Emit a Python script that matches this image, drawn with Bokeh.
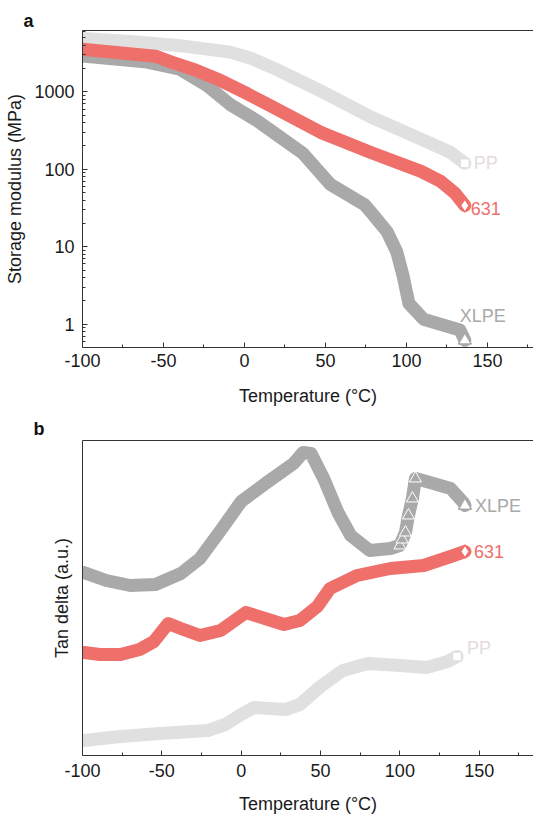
from bokeh.plotting import figure
from bokeh.layouts import column
from bokeh.models import Range1d, FixedTicker, LinearAxis, PrintfTickFormatter
from bokeh.embed import file_html
from bokeh.resources import INLINE
from bokeh.core.properties import value

FONT = "Liberation Sans"
PP_C = "#e0e0e0"
R_C = "#ef6f6a"
X_C = "#a9a9a9"
PP_TXT = "#e2dcdc"

# ---------------- Panel a: storage modulus (MPa) ----------------
a_pp_T = [-100, -70, -40, -9, 4, 19, 47, 78, 109, 127, 136]
a_pp_E = [4900, 4460, 3950, 3260, 2720, 1980, 1030, 473, 245, 166, 120]

a_631_T = [-100, -55, -45, -30, -15, 2, 16, 47, 78, 109, 121, 130, 136]
a_631_E = [3560, 2890, 2420, 1900, 1410, 940, 660, 300, 165, 94, 70, 49, 34]

a_xlpe_T = [-100, -60, -40, -23, -9, 8, 22, 36, 53, 74, 78, 88, 94, 98, 101.5, 110.5, 123, 133, 136]
a_xlpe_E = [2900, 2420, 1960, 1200, 690, 420, 260, 161, 64, 35, 28, 15.7, 8.6, 4.1, 1.85, 1.16, 0.97, 0.84, 0.62]

# ---------------- Panel b: tan delta (a.u.) ----------------
b_pp_T = [-99, -76, -51, -21, -10, 0, 8, 18, 28, 37, 50, 64, 80, 100, 117, 130, 136]
b_pp_V = [0.15, 0.19, 0.22, 0.25, 0.31, 0.41, 0.48, 0.47, 0.46, 0.51, 0.69, 0.85, 0.92, 0.90, 0.88, 0.94, 0.99]

b_631_T = [-99, -89, -76, -64, -55, -46, -38, -26, -13, 3, 15, 27, 37, 48, 56, 73, 94, 115, 132, 141]
b_631_V = [1.03, 1.01, 1.01, 1.06, 1.14, 1.32, 1.27, 1.20, 1.25, 1.43, 1.37, 1.31, 1.35, 1.49, 1.67, 1.80, 1.87, 1.90, 1.99, 2.04]

b_xlpe_T = [-99, -85, -70, -54, -38, -26, -13, 0, 17, 33, 39, 44, 52, 61, 69, 81, 94, 100,
            103.5, 105.4, 107.9, 109.8, 119, 132, 140, 141]
b_xlpe_V = [1.83, 1.75, 1.70, 1.71, 1.82, 1.97, 2.25, 2.54, 2.74, 2.92, 3.03, 3.02, 2.77, 2.43, 2.20, 2.05, 2.07, 2.10,
            2.23, 2.40, 2.57, 2.77, 2.73, 2.67, 2.53, 2.50]
b_xlpe_rise_T = [100, 101.5, 103.5, 105.4, 107.9, 109.8]
b_xlpe_rise_V = [2.10, 2.16, 2.23, 2.40, 2.57, 2.77]

x_major = [-100, -50, 0, 50, 100, 150]
x_minor = [-75, -25, 25, 75, 125, 175]
y_major = [1, 10, 100, 1000]
y_minor = [0.6, 0.7, 0.8, 0.9] + [m * 10 ** k for k in range(0, 4) for m in range(2, 10)]


def style_axes(p, letter, letter_offset, letter_standoff):
    for ax in p.axis:
        ax.axis_line_color = "#333333"
        ax.axis_line_width = 1
        ax.major_tick_line_color = "#333333"
        ax.minor_tick_line_color = "#333333"
        ax.major_tick_in = 5
        ax.major_tick_out = 0
        ax.minor_tick_in = 3
        ax.minor_tick_out = 0
        ax.major_label_text_font = FONT
        ax.major_label_text_font_size = "18px"
        ax.major_label_text_color = "#1a1a1a"
        ax.axis_label_text_font = FONT
        ax.axis_label_text_font_size = "18px"
        ax.axis_label_text_font_style = "normal"
        ax.axis_label_text_color = "#1a1a1a"
    p.grid.visible = False
    p.outline_line_color = None
    top = LinearAxis(ticker=FixedTicker(ticks=[]), axis_line_color="#333333",
                     major_tick_line_color=None, minor_tick_line_color=None,
                     major_label_standoff=0, axis_label_standoff=0)
    p.add_layout(top, "above")
    p.title.text = letter
    p.title.align = "left"
    p.title.offset = letter_offset
    p.title.standoff = letter_standoff
    p.title.text_font = FONT
    p.title.text_font_size = "18px"
    p.title.text_font_style = "bold"
    p.title.text_color = "#111111"


def band(p, xs, ys, color):
    p.line(xs, ys, line_color=color, line_width=13, line_join="round", line_cap="round")


def end_label(p, x, y, text, color, dx, dy):
    p.text(x=[x], y=[y], text=[text], x_offset=dx, y_offset=dy, text_baseline="middle",
           text_align="left", text_font=value(FONT), text_font_size="18px", text_color=color)


# ---------- figure a ----------
pa = figure(width=533, height=415, y_axis_type="log",
            x_range=Range1d(-100, 178.4), y_range=Range1d(0.5, 6200),
            output_backend="svg", toolbar_location=None,
            min_border_left=82, min_border_right=0, min_border_top=30, min_border_bottom=68)
pa.xaxis.ticker = FixedTicker(ticks=x_major, minor_ticks=x_minor)
pa.xaxis.formatter = PrintfTickFormatter(format="%d")
pa.yaxis.ticker = FixedTicker(ticks=y_major, minor_ticks=y_minor)
pa.yaxis.formatter = PrintfTickFormatter(format="%d")
pa.xaxis.axis_label = "Temperature (°C)"
pa.yaxis.axis_label = "Storage modulus (MPa)"
style_axes(pa, "a", -59, 0)
pa.xaxis.major_label_standoff = 6
pa.xaxis.axis_label_standoff = 16
pa.yaxis.major_label_standoff = 8
pa.yaxis.axis_label_standoff = 6

band(pa, a_pp_T, a_pp_E, PP_C)
band(pa, a_xlpe_T, a_xlpe_E, X_C)
band(pa, a_631_T, a_631_E, R_C)
pa.scatter([a_pp_T[-1]], [a_pp_E[-1]], marker="square", size=9, fill_color="white", line_color=PP_C, line_width=1.5)
pa.scatter([a_631_T[-1]], [a_631_E[-1]], marker="diamond", size=13, fill_color="white", line_color=R_C, line_width=1.5)
pa.scatter([a_xlpe_T[-1]], [a_xlpe_E[-1]], marker="triangle", size=13, fill_color="white", line_color=X_C, line_width=1.5)
end_label(pa, a_pp_T[-1], a_pp_E[-1], "PP", PP_TXT, 9, 0)
end_label(pa, a_631_T[-1], a_631_E[-1], "631", R_C, 6, 3)
end_label(pa, a_xlpe_T[-1], a_xlpe_E[-1], "XLPE", X_C, -5, -24)

# ---------- figure b ----------
pb = figure(width=533, height=402,
            x_range=Range1d(-100, 184.2), y_range=Range1d(0, 3.15),
            output_backend="svg", toolbar_location=None,
            min_border_left=82, min_border_right=0, min_border_top=25, min_border_bottom=62)
pb.xaxis.ticker = FixedTicker(ticks=x_major, minor_ticks=x_minor)
pb.xaxis.formatter = PrintfTickFormatter(format="%d")
pb.yaxis.ticker = FixedTicker(ticks=[])
pb.xaxis.axis_label = "Temperature (°C)"
pb.yaxis.axis_label = "Tan delta (a.u.)"
style_axes(pb, "b", -49, 3)
pb.xaxis.major_label_standoff = 8
pb.xaxis.axis_label_standoff = 14
pb.yaxis.major_label_standoff = 0
pb.yaxis.axis_label_standoff = 11

band(pb, b_pp_T, b_pp_V, PP_C)
band(pb, b_631_T, b_631_V, R_C)
band(pb, b_xlpe_T, b_xlpe_V, X_C)
pb.scatter(b_xlpe_rise_T, b_xlpe_rise_V, marker="triangle", size=12, fill_color=X_C, line_color="white", line_width=1)
pb.scatter([b_pp_T[-1]], [b_pp_V[-1]], marker="square", size=9, fill_color="white", line_color=PP_C, line_width=1.5)
pb.scatter([b_631_T[-1]], [b_631_V[-1]], marker="diamond", size=13, fill_color="white", line_color=R_C, line_width=1.5)
pb.scatter([b_xlpe_T[-1]], [b_xlpe_V[-1]], marker="triangle", size=13, fill_color="white", line_color=X_C, line_width=1.5)
end_label(pb, b_pp_T[-1], b_pp_V[-1], "PP", PP_TXT, 10, -9)
end_label(pb, b_631_T[-1], b_631_V[-1], "631", R_C, 9, 0)
end_label(pb, b_xlpe_T[-1], b_xlpe_V[-1], "XLPE", X_C, 10, 0)

layout = column(pa, pb, spacing=0)
open("out.html", "w").write(file_html(layout, INLINE))
